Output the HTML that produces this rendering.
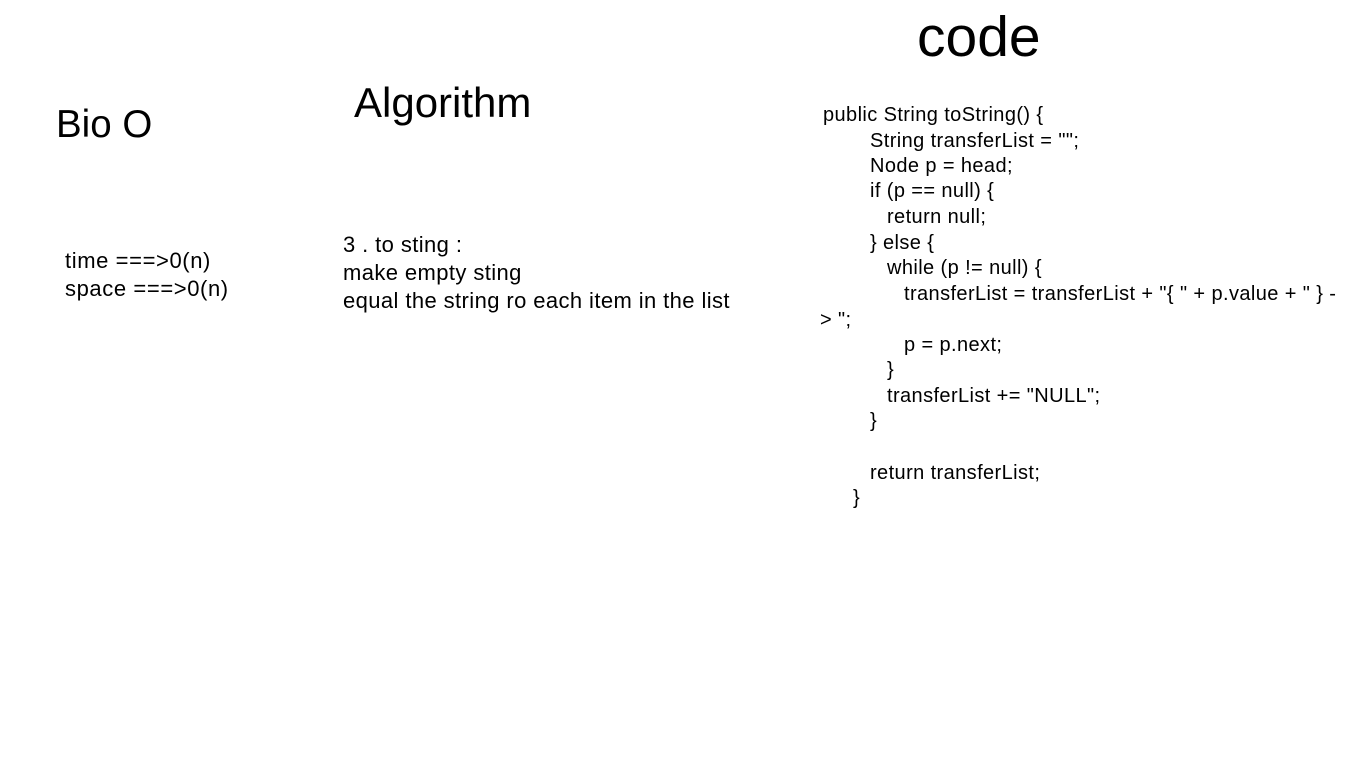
<!DOCTYPE html>
<html><head><meta charset="utf-8"><style>
body{margin:0;width:1366px;height:768px;background:#fff;position:relative;overflow:hidden;font-family:"Liberation Sans",sans-serif;color:#000}
.t{position:absolute;white-space:pre}
.c{position:absolute;white-space:pre;font-size:20px;line-height:26px;letter-spacing:0.4px}
</style></head><body>
<div class="t" style="left:917px;top:2px;font-size:57px;line-height:70px">code</div>
<div class="t" style="left:354px;top:78px;font-size:42px;line-height:50px">Algorithm</div>
<div class="t" style="left:56px;top:102px;font-size:38.5px;line-height:46px">Bio O</div>
<div class="t" style="left:65px;top:247px;font-size:22px;line-height:28px;letter-spacing:0.6px">time ===&gt;0(n)
space ===&gt;0(n)</div>
<div class="t" style="left:343px;top:231px;font-size:22px;line-height:28px;letter-spacing:0.4px">3 . to sting :
make empty sting
equal the string ro each item in the list</div>
<div class="c" style="left:823px;top:102px">public String toString() {</div>
<div class="c" style="left:870px;top:128px">String transferList = "";</div>
<div class="c" style="left:870px;top:153px">Node p = head;</div>
<div class="c" style="left:870px;top:178px">if (p == null) {</div>
<div class="c" style="left:887px;top:204px">return null;</div>
<div class="c" style="left:870px;top:230px">} else {</div>
<div class="c" style="left:887px;top:255px">while (p != null) {</div>
<div class="c" style="left:904px;top:281px">transferList = transferList + "{ " + p.value + " } -</div>
<div class="c" style="left:820px;top:307px">&gt; ";</div>
<div class="c" style="left:904px;top:332px">p = p.next;</div>
<div class="c" style="left:887px;top:357px">}</div>
<div class="c" style="left:887px;top:383px">transferList += "NULL";</div>
<div class="c" style="left:870px;top:408px">}</div>
<div class="c" style="left:870px;top:460px">return transferList;</div>
<div class="c" style="left:853px;top:485px">}</div>
</body></html>
